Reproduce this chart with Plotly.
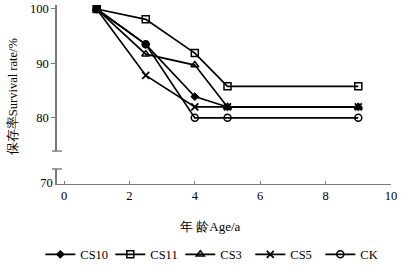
import plotly.graph_objects as go
from plotly.subplots import make_subplots

age = [1, 2.5, 4, 5, 9]
cs10 = [100, 93.5, 83.9, 82, 82]
cs11 = [100, 98.1, 91.9, 85.8, 85.8]
cs3 = [100, 91.7, 89.7, 82, 82]
cs5 = [100, 87.8, 82, 82, 82]
ck = [100, 93.5, 80, 80, 80]

series = [
    ("CS10", cs10, dict(symbol="diamond", size=6, color="black", line=dict(color="black", width=1))),
    ("CS11", cs11, dict(symbol="square-open", size=7, color="black", line=dict(color="black", width=1.5))),
    ("CS3", cs3, dict(symbol="triangle-up-open", size=7, color="black", line=dict(color="black", width=1.5))),
    ("CS5", cs5, dict(symbol="x-thin-open", size=7, color="black", line=dict(color="black", width=1.8))),
    ("CK", ck, dict(symbol="circle-open", size=7, color="black", line=dict(color="black", width=1.5))),
]

FONT = "Liberation Serif"
AX = "#7a7a7a"

fig = make_subplots(rows=2, cols=1, shared_xaxes=True, vertical_spacing=0.0,
                    row_heights=[0.816, 0.084])

for name, ys, mk in series:
    fig.add_trace(go.Scatter(x=age, y=ys, name=name, mode="lines+markers",
                             line=dict(color="black", width=1.7), marker=mk), row=1, col=1)

# invisible trace so the lower (broken) axis segment is drawn
fig.add_trace(go.Scatter(x=[age[0]], y=[71], mode="markers", marker=dict(opacity=0),
                         showlegend=False, hoverinfo="skip"), row=2, col=1)

fig.update_layout(
    width=401, height=268,
    margin=dict(l=57, r=10, t=5, b=84, autoexpand=False),
    paper_bgcolor="white", plot_bgcolor="white",
    font=dict(family=FONT, size=12, color="black"),
    showlegend=True,
    legend=dict(orientation="h", x=-0.05, xanchor="left", y=-0.395, yanchor="middle",
                entrywidth=25, entrywidthmode="pixels", font=dict(size=12.5),
                itemwidth=30, tracegroupgap=0),
)

fig.update_layout(
    yaxis=dict(domain=[0.184, 1.0], range=[73.9, 100.73], tickvals=[80, 90, 100],
               showline=True, linecolor=AX, linewidth=1.6, ticks="outside", ticklen=4,
               tickcolor=AX, showgrid=False, zeroline=False, tickfont=dict(size=12.5),
               automargin=False),
    yaxis2=dict(domain=[0.0, 0.084], range=[69.82, 72.57], tickvals=[70],
                showline=True, linecolor=AX, linewidth=1.6, ticks="", showgrid=False,
                zeroline=False, tickfont=dict(size=12.5), automargin=False),
    xaxis=dict(range=[-0.214, 10], showline=False, showticklabels=False, ticks="",
               showgrid=False, zeroline=False, automargin=False),
    xaxis2=dict(range=[-0.214, 10], tickvals=[0, 2, 4, 6, 8, 10], showline=True,
                linecolor=AX, linewidth=1.4, ticks="inside", ticklen=3, tickcolor=AX,
                showgrid=False, zeroline=False, tickfont=dict(size=12.5), automargin=False),
)

# axis-break caps
for yref, yv in (("y domain", 0), ("y2 domain", 1)):
    fig.add_shape(type="line", xref="paper", xsizemode="pixel", xanchor=0, x0=-5, x1=5,
                  yref=yref, y0=yv, y1=yv, line=dict(color=AX, width=1.4))

fig.add_annotation(text="年 龄Age/a", xref="paper", yref="paper", x=0.46, y=-0.24,
                   showarrow=False, font=dict(size=13), xanchor="center", yanchor="middle")
fig.add_annotation(text="保存率Survival rate/%", xref="paper", yref="paper", x=-0.135, y=0.49,
                   showarrow=False, textangle=-90, font=dict(size=12.5),
                   xanchor="center", yanchor="middle")

fig.write_html("out.html", config={"displayModeBar": False},
               post_script="document.body.style.margin='0';")
